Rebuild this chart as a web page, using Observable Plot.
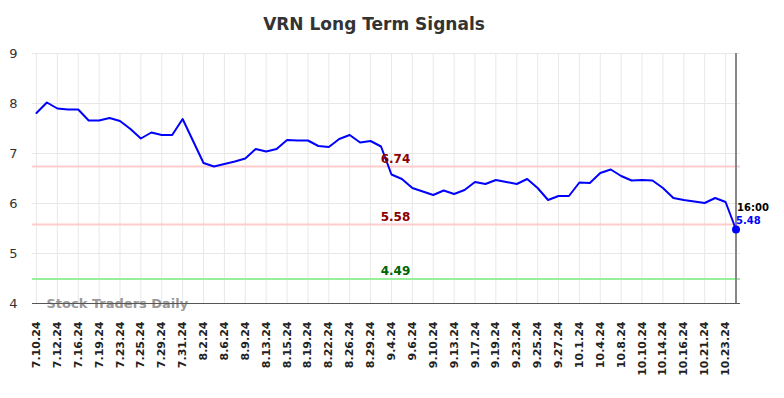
<!DOCTYPE html>
<html>
<head>
<meta charset="utf-8">
<script src="https://cdn.jsdelivr.net/npm/d3@7"></script>
<script src="https://cdn.jsdelivr.net/npm/@observablehq/plot@0.6"></script>
<style>
  body { margin: 0; background: #fff; }
  #wrap { position: relative; width: 784px; height: 398px; font-family: "DejaVu Sans", sans-serif; }
  #title { position: absolute; left: 0; top: 14px; width: 748px; text-align: center; font-size: 17px; font-weight: bold; color: #333; }
</style>
</head>
<body>
<div id="wrap">
  <div id="title">VRN Long Term Signals</div>
</div>
<script>
const tickLabels = ["7.10.24","7.12.24","7.16.24","7.19.24","7.23.24","7.25.24","7.29.24","7.31.24","8.2.24","8.6.24","8.9.24","8.13.24","8.15.24","8.19.24","8.22.24","8.26.24","8.29.24","9.4.24","9.6.24","9.10.24","9.13.24","9.17.24","9.19.24","9.23.24","9.25.24","9.27.24","10.1.24","10.4.24","10.8.24","10.10.24","10.14.24","10.16.24","10.21.24","10.23.24"];

const values = [7.81,8.02,7.90,7.88,7.88,7.66,7.66,7.71,7.65,7.49,
  7.30,7.42,7.37,7.37,7.69,7.25,6.81,6.74,6.79,6.84,
  6.90,7.09,7.04,7.09,7.27,7.26,7.26,7.15,7.13,7.29,
  7.37,7.22,7.25,7.14,6.58,6.49,6.31,6.24,6.17,6.26,
  6.19,6.27,6.43,6.39,6.47,6.43,6.39,6.49,6.31,6.07,
  6.15,6.15,6.42,6.41,6.61,6.68,6.55,6.46,6.47,6.46,
  6.31,6.11,6.07,6.04,6.01,6.11,6.03,5.48];

const resistanceLevels = [6.74, 5.58];
const supportLevels = [4.49];
const yTicks = [4,5,6,7,8,9];
const lastTime = "16:00";

const data = values.map((v, i) => ({i, v}));
const tickIdx = tickLabels.map((_, k) => k * 2);
const last = data[data.length - 1];
const n = values.length;

const chart = Plot.plot({
  width: 784,
  height: 398,
  marginTop: 53,
  marginBottom: 95,
  marginLeft: 32,
  marginRight: 44,
  style: {fontFamily: "DejaVu Sans", fontSize: "11px", background: "#fff", color: "#333"},
  x: {domain: [-0.38, n - 1 + 0.43], axis: null},
  y: {domain: [4, 9], axis: null},
  marks: [
    Plot.ruleX(tickIdx, {stroke: "#e8e8e8", strokeWidth: 1}),
    Plot.ruleY(yTicks, {stroke: "#e8e8e8", strokeWidth: 1}),
    Plot.ruleY(resistanceLevels, {stroke: "#ffcccc", strokeWidth: 2}),
    Plot.ruleY(supportLevels, {stroke: "#99ee99", strokeWidth: 2}),
    Plot.text(["Stock Traders Daily"], {frameAnchor: "bottom-left", dx: 14, dy: 4, fill: "#999", fontWeight: "bold", fontSize: 13, textAnchor: "start"}),
    Plot.ruleY([4], {stroke: "#555", strokeWidth: 1.2}),
    Plot.ruleX([last.i], {stroke: "#888", strokeWidth: 2}),
    Plot.line(data, {x: "i", y: "v", stroke: "#0000ff", strokeWidth: 2}),
    Plot.dot([last], {x: "i", y: "v", r: 4, fill: "#0000ff"}),
    Plot.text(resistanceLevels, {y: d => d, text: d => d.toFixed(2), frameAnchor: "middle", dx: 9, lineAnchor: "bottom", dy: -4, fill: "#8b0000", fontWeight: "bold", fontSize: 12}),
    Plot.text(supportLevels, {y: d => d, text: d => d.toFixed(2), frameAnchor: "middle", dx: 9, lineAnchor: "bottom", dy: -4, fill: "#006400", fontWeight: "bold", fontSize: 12}),
    Plot.text([last], {x: "i", y: "v", text: d => d.v.toFixed(2), textAnchor: "start", lineAnchor: "bottom", dx: 0, dy: -6, fill: "#0000ff", fontWeight: "bold", fontSize: 10}),
    Plot.text([last], {x: "i", y: "v", text: () => lastTime, textAnchor: "start", lineAnchor: "bottom", dx: 1, dy: -19, fill: "#000", fontWeight: "bold", fontSize: 10}),
    Plot.axisY({ticks: yTicks, tickFormat: d => String(d), label: null, tickSize: 0, tickPadding: 15, fontSize: 13, fill: "#333"}),
    Plot.axisX({ticks: tickIdx, tickFormat: i => tickLabels[i / 2], label: null, tickRotate: -90, tickSize: 0, tickPadding: 18, fontSize: 11, fontWeight: "bold", fill: "#222"})
  ]
});
document.getElementById("wrap").appendChild(chart);
</script>
</body>
</html>
